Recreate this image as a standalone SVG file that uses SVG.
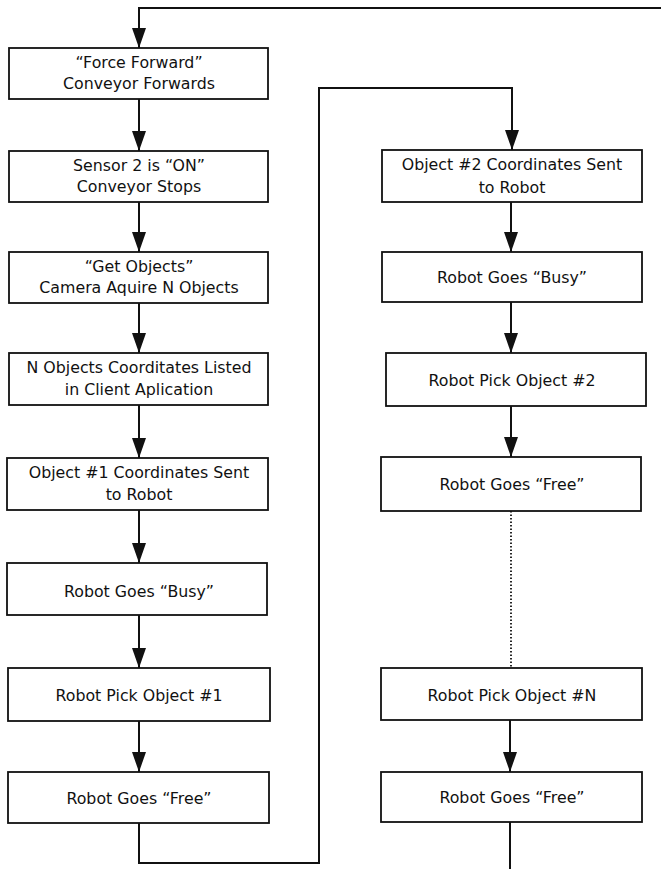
<svg xmlns="http://www.w3.org/2000/svg" width="661" height="869" viewBox="0 0 661 869">
<defs>
<marker id="arr" markerUnits="userSpaceOnUse" markerWidth="20" markerHeight="14" viewBox="0 0 20 14" refX="20" refY="7" orient="auto">
<path d="M0,0 L20,7 L0,14 z" fill="#111"/>
</marker>
<style>
.box{fill:#fff;stroke:#111;stroke-width:1.8}
.t{font-family:"DejaVu Sans",Verdana,sans-serif;font-size:15.8px;fill:#111;text-anchor:middle}
.c{fill:none;stroke:#111;stroke-width:2}
.d{fill:none;stroke:#111;stroke-width:1.8;stroke-dasharray:1.5 2}
</style>
</defs>
<rect width="661" height="869" fill="#fff"/>
<g id="connectors">
<path class="c" d="M661,8 H139 V48" marker-end="url(#arr)"/>
<path class="c" d="M139,99 V151" marker-end="url(#arr)"/>
<path class="c" d="M139,202 V252" marker-end="url(#arr)"/>
<path class="c" d="M139,303 V353" marker-end="url(#arr)"/>
<path class="c" d="M139,405 V458" marker-end="url(#arr)"/>
<path class="c" d="M139,510 V563" marker-end="url(#arr)"/>
<path class="c" d="M139,615 V668" marker-end="url(#arr)"/>
<path class="c" d="M139,721 V772" marker-end="url(#arr)"/>
<path class="c" d="M139,823 V863 H319 V88 H512 V150" marker-end="url(#arr)"/>
<path class="c" d="M511,202 V252" marker-end="url(#arr)"/>
<path class="c" d="M511,302 V353" marker-end="url(#arr)"/>
<path class="c" d="M511,406 V457" marker-end="url(#arr)"/>
<path class="d" d="M511,511 V668"/>
<path class="c" d="M510,720 V772" marker-end="url(#arr)"/>
<path class="c" d="M510,822 V869"/>
</g>
<g id="n1"><rect class="box" x="9" y="48" width="259" height="51"/><text class="t" x="139" y="68">“Force Forward”</text><text class="t" x="139" y="89">Conveyor Forwards</text></g>
<g id="n2"><rect class="box" x="9" y="151" width="259" height="51"/><text class="t" x="139" y="171">Sensor 2 is “ON”</text><text class="t" x="139" y="192">Conveyor Stops</text></g>
<g id="n3"><rect class="box" x="9" y="252" width="259" height="51"/><text class="t" x="139" y="272">“Get Objects”</text><text class="t" x="139" y="293">Camera Aquire N Objects</text></g>
<g id="n4"><rect class="box" x="9" y="353" width="259" height="52"/><text class="t" x="139" y="373">N Objects Coorditates Listed</text><text class="t" x="139" y="395">in Client Aplication</text></g>
<g id="n5"><rect class="box" x="7" y="458" width="261" height="52"/><text class="t" x="139" y="478">Object #1 Coordinates Sent</text><text class="t" x="139" y="500">to Robot</text></g>
<g id="n6"><rect class="box" x="7" y="563" width="260" height="52"/><text class="t" x="139" y="597">Robot Goes “Busy”</text></g>
<g id="n7"><rect class="box" x="8" y="668" width="262" height="53"/><text class="t" x="139" y="701">Robot Pick Object #1</text></g>
<g id="n8"><rect class="box" x="8" y="772" width="261" height="51"/><text class="t" x="139" y="804">Robot Goes “Free”</text></g>
<g id="r1"><rect class="box" x="382" y="150" width="260" height="52"/><text class="t" x="512" y="170">Object #2 Coordinates Sent</text><text class="t" x="512" y="193">to Robot</text></g>
<g id="r2"><rect class="box" x="382" y="252" width="260" height="50"/><text class="t" x="512" y="283">Robot Goes “Busy”</text></g>
<g id="r3"><rect class="box" x="386" y="353" width="260" height="53"/><text class="t" x="512" y="386">Robot Pick Object #2</text></g>
<g id="r4"><rect class="box" x="381" y="457" width="260" height="54"/><text class="t" x="512" y="490">Robot Goes “Free”</text></g>
<g id="r5"><rect class="box" x="381" y="668" width="261" height="52"/><text class="t" x="512" y="701">Robot Pick Object #N</text></g>
<g id="r6"><rect class="box" x="381" y="772" width="261" height="50"/><text class="t" x="512" y="803">Robot Goes “Free”</text></g>
</svg>
